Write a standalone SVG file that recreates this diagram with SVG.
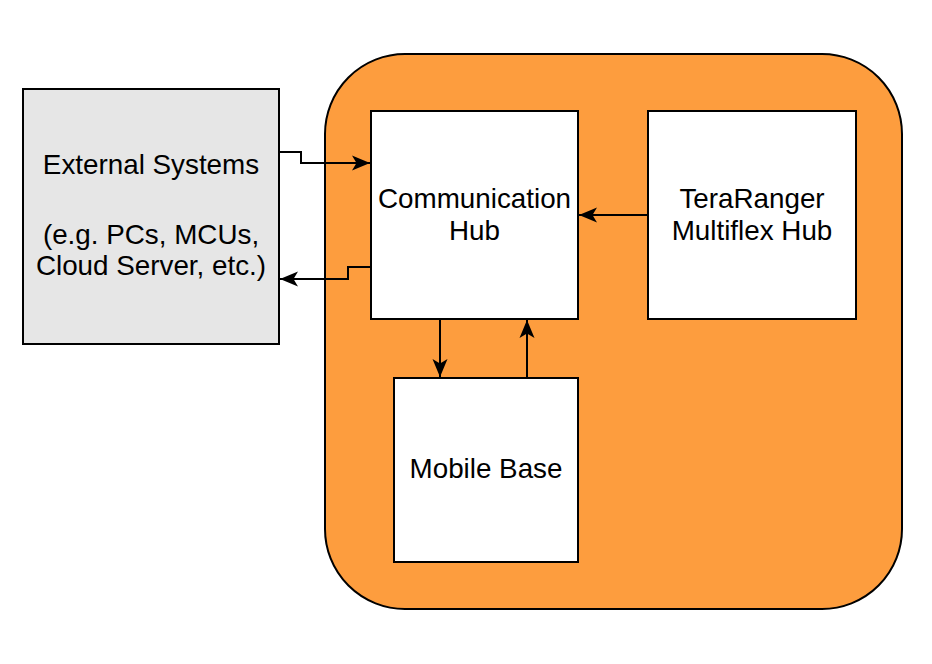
<svg xmlns="http://www.w3.org/2000/svg" width="932" height="664" viewBox="0 0 932 664">
<defs>
<style>
.box{stroke:#000;stroke-width:2;}
.lbl{font-family:"Liberation Sans",Arial,sans-serif;font-size:27.8px;fill:#000;text-anchor:middle;}
.edge{fill:none;stroke:#000;stroke-width:2;marker-end:url(#arr);}
</style>
<marker id="arr" markerUnits="userSpaceOnUse" markerWidth="20" markerHeight="18" refX="18.5" refY="8.5" orient="auto">
<path d="M0.5,1 L18.5,8.5 L0.5,16 L5,8.5 Z" fill="#000"/>
</marker>
</defs>
<rect width="932" height="664" fill="#fff"/>
<g id="container">
<rect class="box" x="325" y="54" width="577" height="555" rx="80" ry="80" fill="#fd9d3e"/>
</g>
<g id="external">
<rect class="box" x="23" y="89" width="256" height="255" fill="#e6e6e6"/>
<text class="lbl" x="151" y="174">External Systems</text>
<text class="lbl" x="151" y="244">(e.g. PCs, MCUs,</text>
<text class="lbl" x="151" y="275">Cloud Server, etc.)</text>
</g>
<g id="comm-hub">
<rect class="box" x="371" y="111" width="207" height="208" fill="#fff"/>
<text class="lbl" x="474.5" y="208">Communication</text>
<text class="lbl" x="474.5" y="240">Hub</text>
</g>
<g id="teraranger">
<rect class="box" x="648" y="111" width="208" height="208" fill="#fff"/>
<text class="lbl" x="752" y="208">TeraRanger</text>
<text class="lbl" x="752" y="240">Multiflex Hub</text>
</g>
<g id="mobile-base">
<rect class="box" x="394" y="378" width="184" height="184" fill="#fff"/>
<text class="lbl" x="486" y="478">Mobile Base</text>
</g>
<g id="connectors">
<path class="edge" d="M279,152 H301 V163 H370"/>
<path class="edge" d="M371,267 H348 V279 H280"/>
<path class="edge" d="M648,215 H579"/>
<path class="edge" d="M440,319 V377"/>
<path class="edge" d="M527,378 V320"/>
</g>
</svg>
